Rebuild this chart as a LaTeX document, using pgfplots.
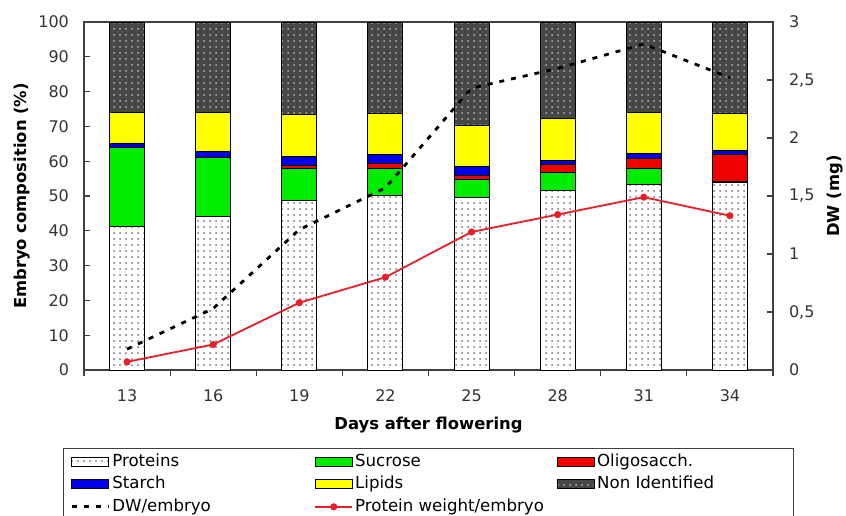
\documentclass[border=0pt]{standalone}
\usepackage{pgfplots}
\pgfplotsset{compat=1.18}
\usepackage{pgfplotstable}
\usepackage{fontspec}
\setmainfont{DejaVu Sans}
\usetikzlibrary{patterns}

\definecolor{sucrose}{RGB}{0,235,0}
\definecolor{oligo}{RGB}{240,0,0}
\definecolor{starch}{RGB}{0,0,235}
\definecolor{lipids}{RGB}{255,255,0}
\definecolor{protline}{RGB}{235,30,40}

\tikzset{
  protbar/.style={draw=black, line width=0.5pt, fill=white, postaction={pattern=dots, pattern color=black!55}},
  sucbar/.style={draw=black, line width=0.5pt, fill=sucrose},
  oligobar/.style={draw=black, line width=0.5pt, fill=oligo},
  starchbar/.style={draw=black, line width=0.5pt, fill=starch},
  lipbar/.style={draw=black, line width=0.5pt, fill=lipids},
  nibar/.style={draw=black, line width=0.5pt, fill=black!72, postaction={pattern=dots, pattern color=black!30}},
}

% day index, composition (%) and dry weights (mg)
\pgfplotstableread{
x prot sucr oligo starch lipids nonid dw protw
0 41.2 22.8 0.0 1.0 9.0 26.0 0.18 0.07
1 44.0 17.1 0.0 1.6 11.3 26.0 0.53 0.22
2 48.7 9.1 0.9 2.6 12.0 26.7 1.21 0.58
3 50.1 7.7 1.6 2.6 11.8 26.2 1.57 0.80
4 49.6 5.2 1.2 2.4 11.9 29.7 2.43 1.19
5 51.5 5.3 2.2 1.2 12.0 27.8 2.60 1.34
6 53.2 4.6 3.1 1.4 11.7 26.0 2.81 1.49
7 53.8 0.5 7.7 1.1 10.6 26.3 2.52 1.33
}\data

\newcommand{\legbox}[1]{\draw[#1] (0pt,-2.2pt) rectangle (18.5pt,2.2pt);}

\begin{document}
\begin{tikzpicture}
\path[use as bounding box] (-42pt,-72.5pt) rectangle (381pt,185pt);
\begin{axis}[
  scale only axis, width=344.5pt, height=174pt,
  xmin=-0.5, xmax=7.5, ymin=0, ymax=100,
  ybar stacked, bar width=17.5pt,
  xtick={-0.5,0.5,...,7.5}, x tick label as interval,
  xticklabels={13,16,19,22,25,28,31,34},
  ytick={0,10,...,100},
  tick pos=left, tick align=inside, major tick length=3pt,
  x tick style={yshift=-3pt},
  axis line style={black!75, line width=0.6pt},
  tick style={black!75, line width=0.6pt},
  /pgf/number format/assume math mode=true,
  ticklabel style={font=\fontsize{8}{9.6}\selectfont, text=black!80},
  yticklabel style={xshift=-4pt},
  xticklabel style={yshift=-6.5pt},
  ylabel={Embryo composition (\%)}, xlabel={Days after flowering},
  label style={font=\bfseries\fontsize{8.2}{10}\selectfont},
  ylabel style={at={(axis description cs:-0.09,0.5)}, anchor=center},
  xlabel style={at={(axis description cs:0.5,-0.158)}, anchor=center},
]
\addplot[protbar] table[x=x,y=prot]{\data};
\addplot[sucbar] table[x=x,y=sucr]{\data};
\addplot[oligobar] table[x=x,y=oligo]{\data};
\addplot[starchbar] table[x=x,y=starch]{\data};
\addplot[lipbar] table[x=x,y=lipids]{\data};
\addplot[nibar] table[x=x,y=nonid]{\data};
\end{axis}

\begin{axis}[
  scale only axis, width=344.5pt, height=174pt,
  xmin=-0.5, xmax=7.5, ymin=0, ymax=3,
  axis y line*=right, axis x line=none,
  ytick={0,0.5,...,3}, yticklabels={0,{0,5},1,{1,5},2,{2,5},3},
  tick align=inside, major tick length=3pt,
  axis line style={black!75, line width=0.6pt},
  tick style={black!75, line width=0.6pt},
  ticklabel style={font=\fontsize{8}{9.6}\selectfont, text=black!80},
  yticklabel style={xshift=4.5pt},
  ylabel={DW (mg)},
  ylabel style={font=\bfseries\fontsize{8.2}{10}\selectfont, at={(axis description cs:1.09,0.5)}, anchor=center},
  legend columns=3, legend cell align=left,
  legend style={at={(axis description cs:-0.0305,-0.2241)}, anchor=north west,
    draw=black!75, line width=0.6pt, inner xsep=3.5pt, inner ysep=2.2pt, row sep=2.2pt,
    font=\fontsize{8.3}{10}\selectfont,
    nodes={inner sep=0.5pt, text height=6.2pt, text depth=1.8pt},
    /tikz/every odd column/.append style={column sep=0.5pt},
    /tikz/every even column/.append style={column sep=0.5pt}},
]
\addlegendimage{legend image code/.code={\legbox{protbar}}}
\addlegendentry{\makebox[100pt][l]{Proteins}}
\addlegendimage{legend image code/.code={\legbox{sucbar}}}
\addlegendentry{\makebox[100pt][l]{Sucrose}}
\addlegendimage{legend image code/.code={\legbox{oligobar}}}
\addlegendentry{\makebox[94pt][l]{Oligosacch.}}
\addlegendimage{legend image code/.code={\legbox{starchbar}}}
\addlegendentry{Starch}
\addlegendimage{legend image code/.code={\legbox{lipbar}}}
\addlegendentry{Lipids}
\addlegendimage{legend image code/.code={\legbox{nibar}}}
\addlegendentry{Non Identified}
\addplot[black, line width=1.4pt, dash pattern=on 2.5pt off 3.5pt,
  legend image code/.code={\draw[black, line width=1.4pt, dash pattern=on 2.5pt off 3.5pt] (0pt,0pt) -- (18.5pt,0pt);}]
  table[x=x,y=dw]{\data};
\addlegendentry{DW/embryo}
\addplot[protline, line width=0.9pt, mark=*, mark size=1.3pt,
  legend image code/.code={\draw[protline, line width=0.9pt] (0pt,0pt) -- (18.5pt,0pt); \fill[protline] (9.25pt,0pt) circle (1.3pt);}]
  table[x=x,y=protw]{\data};
\addlegendentry{Protein weight/embryo}
\end{axis}
\end{tikzpicture}
\end{document}
